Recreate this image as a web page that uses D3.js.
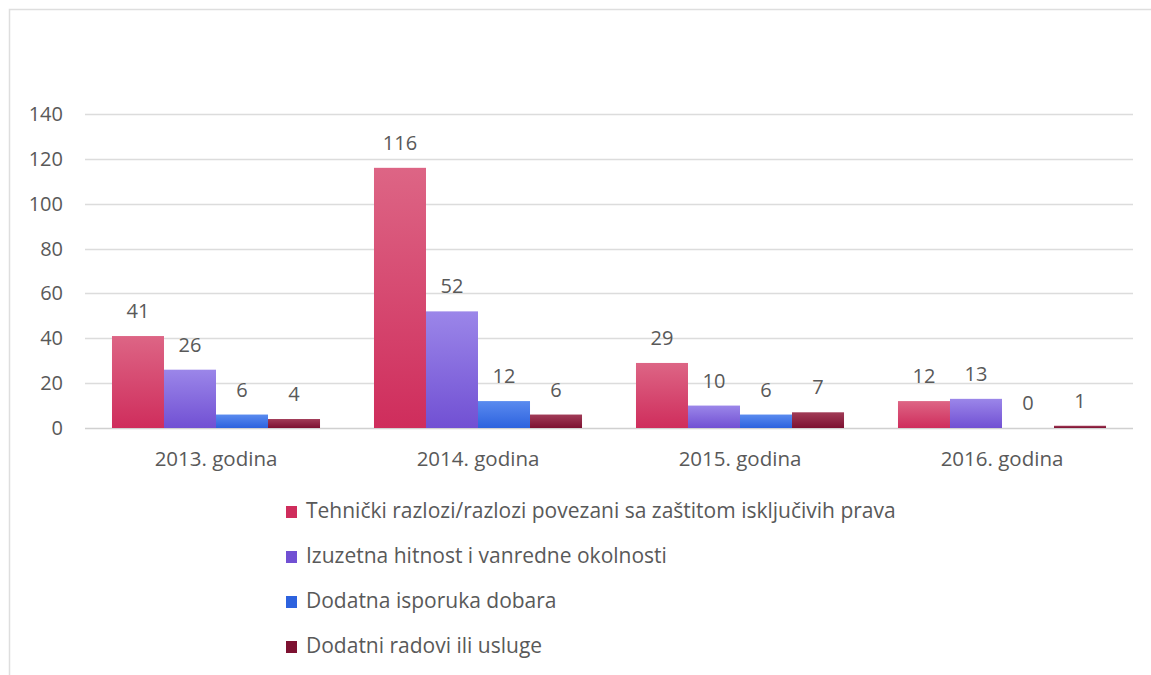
<!DOCTYPE html>
<html>
<head>
<meta charset="utf-8">
<script src="https://cdn.jsdelivr.net/npm/d3@7"></script>
<style>
  body { margin: 0; background: #fff; }
  text { font-family: "Open Sans", sans-serif; fill: #595959; }
</style>
</head>
<body>
<svg id="chart"></svg>
<script>
const width = 1151, height = 675;

// data
const years = ["2013. godina", "2014. godina", "2015. godina", "2016. godina"];
const seriesNames = [
  "Tehnički razlozi/razlozi povezani sa zaštitom isključivih prava",
  "Izuzetna hitnost i vanredne okolnosti",
  "Dodatna isporuka dobara",
  "Dodatni radovi ili usluge"
];
const tehnicki = [41, 116, 29, 12];
const hitnost = [26, 52, 10, 13];
const isporuka = [6, 12, 6, 0];
const radovi = [4, 6, 7, 1];
const yTicks = [0, 20, 40, 60, 80, 100, 120, 140];

const seriesValues = [tehnicki, hitnost, isporuka, radovi];
// top / bottom of each bar gradient
const colors = [
  ["#dd6585", "#cf2d5c"],
  ["#9b86e9", "#7150d3"],
  ["#5a8bef", "#2d62de"],
  ["#a13b57", "#7d1131"]
];

const svg = d3.select("#chart").attr("width", width).attr("height", height);

const margin = { left: 85, right: 18, top: 114, bottom: 247 };
const plotBottom = height - margin.bottom; // 428

const x = d3.scaleBand()
  .domain(years)
  .range([margin.left, width - margin.right])
  .paddingInner(0.206)
  .paddingOuter(0.103);

const xs = d3.scaleBand()
  .domain(d3.range(seriesNames.length))
  .range([0, x.bandwidth()]);

const y = d3.scaleLinear()
  .domain([0, 140])
  .range([plotBottom, margin.top]);

// chart frame (only top and left visible)
svg.append("path")
  .attr("d", `M9.5,${height} V9.5 H${width}`)
  .attr("fill", "none")
  .attr("stroke", "#dedede")
  .attr("stroke-width", 1.5);

const defs = svg.append("defs");
colors.forEach((c, i) => {
  const g = defs.append("linearGradient")
    .attr("id", "grad" + i)
    .attr("x1", 0).attr("y1", 0).attr("x2", 0).attr("y2", 1);
  g.append("stop").attr("offset", "0%").attr("stop-color", c[0]);
  g.append("stop").attr("offset", "100%").attr("stop-color", c[1]);
});

// gridlines
svg.append("g")
  .selectAll("line")
  .data(yTicks)
  .join("line")
  .attr("x1", margin.left)
  .attr("x2", width - margin.right)
  .attr("y1", d => Math.round(y(d)) + 0.5)
  .attr("y2", d => Math.round(y(d)) + 0.5)
  .attr("stroke", d => d === 0 ? "#d0d0d0" : "#dcdcdc")
  .attr("stroke-width", 1.5);

// y tick labels
svg.append("g")
  .selectAll("text")
  .data(yTicks)
  .join("text")
  .attr("x", 63)
  .attr("y", d => y(d))
  .attr("dy", "0.35em")
  .attr("text-anchor", "end")
  .attr("font-size", 20)
  .text(d => d);

// bars
const groups = svg.append("g")
  .selectAll("g")
  .data(years)
  .join("g")
  .attr("transform", d => `translate(${x(d)},0)`);

const barData = (yr, j) => seriesValues.map((vals, i) => ({ i: i, v: vals[j] }));

groups.selectAll("rect")
  .data((d, j) => barData(d, j))
  .join("rect")
  .attr("x", d => xs(d.i))
  .attr("width", xs.bandwidth())
  .attr("y", d => y(d.v))
  .attr("height", d => plotBottom - y(d.v))
  .attr("fill", d => `url(#grad${d.i})`);

groups.selectAll("text")
  .data((d, j) => barData(d, j))
  .join("text")
  .attr("x", d => xs(d.i) + xs.bandwidth() / 2)
  .attr("y", d => y(d.v) - 18)
  .attr("text-anchor", "middle")
  .attr("font-size", 20)
  .text(d => d.v);

// category labels
svg.append("g")
  .selectAll("text")
  .data(years)
  .join("text")
  .attr("x", d => x(d) + x.bandwidth() / 2)
  .attr("y", 466)
  .attr("text-anchor", "middle")
  .attr("font-size", 20.5)
  .text(d => d);

// legend
const legend = svg.append("g")
  .selectAll("g")
  .data(seriesNames)
  .join("g")
  .attr("transform", (d, i) => `translate(286,${511 + i * 45})`);

legend.append("rect")
  .attr("x", 0)
  .attr("y", -5)
  .attr("width", 11)
  .attr("height", 12)
  .attr("fill", (d, i) => colors[i][1]);

legend.append("text")
  .attr("x", 20)
  .attr("y", 0)
  .attr("dy", "0.35em")
  .attr("font-size", 21)
  .text(d => d);
</script>
</body>
</html>
